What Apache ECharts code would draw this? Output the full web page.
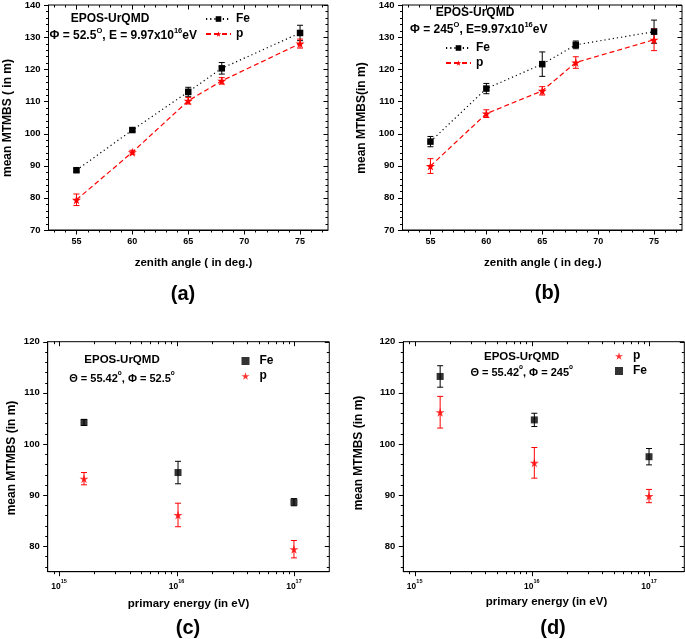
<!DOCTYPE html>
<html><head><meta charset="utf-8">
<script src="https://cdn.jsdelivr.net/npm/echarts@6/dist/echarts.min.js"></script>
<style>html,body{margin:0;padding:0;background:#fff}#c{width:685px;height:639px}</style>
</head><body><div id="c"></div>
<script>
// ---------- data ----------
const zenith = [55, 60, 65, 68, 75];
// panel (a)
const feA = [88.6, 101.1, 113.0, 120.3, 131.3];
const feAerr = [0.5, 0.4, 1.4, 1.8, 2.4];
const pA = [79.4, 94.2, 110.2, 116.4, 128.0];
const pAerr = [1.8, 0.6, 1.0, 1.0, 1.4];
// panel (b)
const feB = [97.5, 114.0, 121.6, 127.6, 131.7];
const feBerr = [1.6, 1.6, 3.8, 1.2, 3.6];
const pB = [89.9, 106.2, 113.3, 122.1, 129.2];
const pBerr = [2.3, 1.2, 1.3, 1.8, 3.4];
// panel (c)
const energyC = [1.63e15, 1.03e16, 1.0e17];
const feC = [104.2, 94.4, 88.6];
const feCerr = [0.6, 2.2, 0.7];
const pC = [93.2, 86.1, 79.4];
const pCerr = [1.2, 2.3, 1.7];
// panel (d)
const energyD = [1.65e15, 1.05e16, 1.0e17];
const feD = [113.2, 104.7, 97.5];
const feDerr = [2.1, 1.3, 1.6];
const pD = [106.2, 96.3, 89.8];
const pDerr = [3.1, 3.0, 1.3];
// tick values
const zenithTicks = [55, 60, 65, 70, 75];
const zenithMinor = [53, 54, 56, 57, 58, 59, 61, 62, 63, 64, 66, 67, 68, 69, 71, 72, 73, 74, 76, 77];
const mtTicksAB = [70, 80, 90, 100, 110, 120, 130, 140];
const mtMinorAB = [72,74,76,78,82,84,86,88,92,94,96,98,102,104,106,108,112,114,116,118,122,124,126,128,132,134,136,138];
const energyTicks = [1e15, 1e16, 1e17];
const energyMinor = [9e14, 2e15, 3e15, 4e15, 5e15, 6e15, 7e15, 8e15, 9e15, 2e16, 3e16, 4e16, 5e16, 6e16, 7e16, 8e16, 9e16];
const mtTicksCD = [80, 90, 100, 110, 120];
const mtMinorCD = [76,78,82,84,86,88,92,94,96,98,102,104,106,108,112,114,116,118];

// ---------- styling ----------
const FONT = "'Liberation Sans', Arial, sans-serif";
const STAR = 'path://M50,0 L61,35 L98,35 L68,57 L79,91 L50,70 L21,91 L32,57 L2,35 L39,35 Z';
const RED = '#ff0000';
const MAJ = 4.5, MIN = 2.5;

const grids = [
  {left: 48.5, top: 4.7, width: 279.5, height: 225.3},
  {left: 402.5, top: 4.7, width: 279.5, height: 225.3},
  {left: 47.7, top: 341.7, width: 281.6, height: 230},
  {left: 403.3, top: 341.7, width: 281, height: 230}
].map(g => Object.assign(g, {show: true, borderColor: '#000', borderWidth: 1, backgroundColor: 'transparent'}));

const xAxes = [], yAxes = [];
const lineCol = {color: '#000', width: 1};
function supFmt(v) {
  return '{n|10}{s|' + Math.round(Math.log10(v)) + '}';
}
const logLabel = {formatter: supFmt, rich: {
  n: {fontFamily: FONT, fontWeight: 'bold', fontSize: 8.5, color: '#000', verticalAlign: 'bottom', lineHeight: 12},
  s: {fontFamily: FONT, fontWeight: 'bold', fontSize: 5.5, color: '#000', verticalAlign: 'top', lineHeight: 12}}};
const panels = [
  {xType: 'value', xMin: 52.5, xMax: 77.5, xMajor: zenithTicks, xMinor: zenithMinor,
   yMin: 70, yMax: 140, yMajor: mtTicksAB, yMinor: mtMinorAB},
  {xType: 'value', xMin: 52.5, xMax: 77.5, xMajor: zenithTicks, xMinor: zenithMinor,
   yMin: 70, yMax: 140, yMajor: mtTicksAB, yMinor: mtMinorAB},
  {xType: 'log', xMin: 8e14, xMax: 2e17, xMajor: energyTicks, xMinor: energyMinor, xLabel: logLabel,
   yMin: 75, yMax: 120, yMajor: mtTicksCD, yMinor: mtMinorCD},
  {xType: 'log', xMin: 8e14, xMax: 2e17, xMajor: energyTicks, xMinor: energyMinor, xLabel: logLabel,
   yMin: 75, yMax: 120, yMajor: mtTicksCD, yMinor: mtMinorCD}
];
panels.forEach((c, gi) => {
  xAxes.push({gridIndex: gi, type: c.xType, min: c.xMin, max: c.xMax, position: 'bottom',
    splitLine: {show: false}, minorSplitLine: {show: false},
    axisLine: {show: true, lineStyle: lineCol, onZero: false},
    axisTick: {show: false},
    axisLabel: Object.assign({show: true, customValues: c.xMajor, margin: 7, color: '#000',
      fontFamily: FONT, fontWeight: 'bold', fontSize: 9}, c.xLabel || {})});
  yAxes.push({gridIndex: gi, type: 'value', min: c.yMin, max: c.yMax, position: 'left',
    splitLine: {show: false},
    axisLine: {show: true, lineStyle: lineCol, onZero: false},
    axisTick: {show: false},
    axisLabel: {show: true, customValues: c.yMajor, margin: 8, color: '#000',
      fontFamily: FONT, fontWeight: 'bold', fontSize: 9.5}});
});

// ticks on all four sides, placed through each grid's own axis scales
function tickRender(params, api) {
  const cs = params.coordSys;
  const isY = api.value(2), major = api.value(3);
  const len = major ? MAJ : MIN;
  const pt = api.coord([api.value(0), api.value(1)]);
  const st = {stroke: '#000', lineWidth: 1};
  if (!isY) {
    const px = Math.round(pt[0]) + 0.5;
    const b = cs.y + cs.height, t = cs.y;
    return {type: 'group', children: [
      {type: 'line', shape: {x1: px, y1: b, x2: px, y2: b + len}, style: st},
      {type: 'line', shape: {x1: px, y1: t, x2: px, y2: t + len}, style: st}]};
  }
  const py = Math.round(pt[1]) + 0.5;
  const l = cs.x, r = cs.x + cs.width;
  return {type: 'group', children: [
    {type: 'line', shape: {x1: l - len, y1: py, x2: l, y2: py}, style: st},
    {type: 'line', shape: {x1: r - len, y1: py, x2: r, y2: py}, style: st}]};
}
function tickData(c) {
  const midX = c.xType === 'log' ? Math.sqrt(c.xMin * c.xMax) : (c.xMin + c.xMax) / 2;
  const midY = (c.yMin + c.yMax) / 2;
  return [].concat(
    c.xMajor.map(v => [v, midY, 0, 1]), c.xMinor.map(v => [v, midY, 0, 0]),
    c.yMajor.map(v => [midX, v, 1, 1]), c.yMinor.map(v => [midX, v, 1, 0]));
}

function errRender(color) {
  return function (params, api) {
    const x = api.value(0), lo = api.value(1), hi = api.value(2);
    const a = api.coord([x, lo]), b = api.coord([x, hi]);
    const w = 3;
    const st = {stroke: color, lineWidth: 1};
    return {type: 'group', children: [
      {type: 'line', shape: {x1: a[0], y1: a[1], x2: b[0], y2: b[1]}, style: st},
      {type: 'line', shape: {x1: a[0] - w, y1: a[1], x2: a[0] + w, y2: a[1]}, style: st},
      {type: 'line', shape: {x1: b[0] - w, y1: b[1], x2: b[0] + w, y2: b[1]}, style: st}
    ]};
  };
}
function errData(xs, v, e) { return xs.map((x, i) => [x, v[i] - e[i], v[i] + e[i]]); }
function pts(xs, v) { return xs.map((x, i) => [x, v[i]]); }

const series = [];
panels.forEach((c, gi) => {
  series.push({type: 'custom', renderItem: tickRender, data: tickData(c), xAxisIndex: gi, yAxisIndex: gi,
    encode: {x: 0, y: 1}, z: 1, silent: true, clip: false});
});
function addPanel(gi, xs, fe, feE, p, pE, withLines, tag) {
  const ax = {xAxisIndex: gi, yAxisIndex: gi};
  series.push(Object.assign({type: 'custom', renderItem: errRender('#000'), data: errData(xs, fe, feE),
    encode: {x: 0, y: [1, 2]}, z: 2, silent: true}, ax));
  series.push(Object.assign({type: 'custom', renderItem: errRender(RED), data: errData(xs, p, pE),
    encode: {x: 0, y: [1, 2]}, z: 2, silent: true}, ax));
  if (withLines) {
    series.push(Object.assign({name: 'Fe#' + tag, type: 'line', data: pts(xs, fe), symbol: 'rect', symbolSize: 6.5,
      itemStyle: {color: '#000'}, lineStyle: {color: '#000', width: 1.2, type: [1.2, 3]}, z: 3}, ax));
    series.push(Object.assign({name: 'p#' + tag, type: 'line', data: pts(xs, p), symbol: STAR, symbolSize: 9,
      itemStyle: {color: RED}, lineStyle: {color: RED, width: 1.2, type: [5, 3]}, z: 3}, ax));
  } else {
    series.push(Object.assign({name: 'Fe#' + tag, type: 'scatter', data: pts(xs, fe), symbol: 'rect', symbolSize: 7,
      itemStyle: {color: '#000'}, z: 3}, ax));
    series.push(Object.assign({name: 'p#' + tag, type: 'scatter', data: pts(xs, p), symbol: STAR, symbolSize: 9,
      itemStyle: {color: RED}, z: 3}, ax));
  }
}
addPanel(0, zenith, feA, feAerr, pA, pAerr, true, 'a');
addPanel(1, zenith, feB, feBerr, pB, pBerr, true, 'b');
addPanel(2, energyC, feC, feCerr, pC, pCerr, false, 'c');
addPanel(3, energyD, feD, feDerr, pD, pDerr, false, 'd');

const legTxt = {fontFamily: FONT, fontWeight: 'bold', fontSize: 12, color: '#000', lineHeight: 12};
function legLine(left, top, names) {
  return {left: left, top: top, orient: 'vertical', itemWidth: 25, itemHeight: 7,
    itemGap: 3, padding: 0, selectedMode: false, data: names,
    formatter: n => n.split('#')[0], textStyle: legTxt};
}
function legDot(left, top, names) {
  return {left: left, top: top, orient: 'vertical', itemWidth: 8, itemHeight: 8,
    itemGap: 3, padding: 0, selectedMode: false, data: names,
    formatter: n => n.split('#')[0], textStyle: Object.assign({}, legTxt, {padding: [0, 0, 0, 5]})};
}
const legends = [
  legLine(205, 13, ['Fe#a', 'p#a']),
  legLine(445, 42, ['Fe#b', 'p#b']),
  legDot(241.5, 355, ['Fe#c', 'p#c']),
  legDot(615, 350, ['p#d', 'Fe#d'])
];

function txt(x, y, rich, str, align, rot) {
  return {type: 'text', x: x, y: y, rotation: rot || 0, silent: true,
    style: {text: str, rich: rich, textAlign: align || 'left', textVerticalAlign: 'middle',
      font: 'bold 12px ' + FONT, fill: '#000'}};
}
const R = {
  b: {fontFamily: FONT, fontWeight: 'bold', fontSize: 12, color: '#000', lineHeight: 15, verticalAlign: 'bottom'},
  s: {fontFamily: FONT, fontWeight: 'bold', fontSize: 7.5, color: '#000', lineHeight: 15, verticalAlign: 'top'}
};
const Rs = {
  b: {fontFamily: FONT, fontWeight: 'bold', fontSize: 11, color: '#000', lineHeight: 14, verticalAlign: 'bottom'},
  s: {fontFamily: FONT, fontWeight: 'bold', fontSize: 6.5, color: '#000', lineHeight: 14, verticalAlign: 'top'}
};
function plain(x, y, str, size, align, rot) {
  return {type: 'text', x: x, y: y, rotation: rot || 0, silent: true,
    style: {text: str, textAlign: align || 'center', textVerticalAlign: 'middle',
      font: 'bold ' + size + 'px ' + FONT, fill: '#000'}};
}
const graphics = [
  plain(110, 19, 'EPOS-UrQMD', 12),
  txt(49.5, 34, R, '{b|Φ = 52.5}{s|O}{b|, E = 9.97x10}{s|16}{b|eV}', 'left'),
  plain(475, 12.5, 'EPOS-UrQMD', 12),
  txt(410, 28.5, R, '{b|Φ = 245}{s|O}{b|, E=9.97x10}{s|16}{b|eV}', 'left'),
  plain(122, 360, 'EPOS-UrQMD', 11.5),
  txt(122, 377, Rs, '{b|Θ = 55.42}{s|o}{b|, Φ = 52.5}{s|o}', 'center'),
  plain(521.7, 356.5, 'EPOS-UrQMD', 11.5),
  txt(521.7, 371, Rs, '{b|Θ = 55.42}{s|o}{b|, Φ = 245}{s|o}', 'center'),
  plain(193.5, 263, 'zenith angle ( in deg.)', 11.5),
  plain(542.8, 263, 'zenith angle ( in deg.)', 11.5),
  plain(188.5, 604, 'primary energy (in eV)', 11.5),
  plain(546.5, 602, 'primary energy (in eV)', 11.5),
  plain(183, 294, '(a)', 20),
  plain(547.5, 293, '(b)', 20),
  plain(188, 628, '(c)', 20),
  plain(553, 628, '(d)', 20),
  plain(8, 118, 'mean MTMBS ( in m)', 12, 'center', Math.PI / 2),
  plain(362, 118, 'mean MTMBS(in m)', 12, 'center', Math.PI / 2),
  plain(12, 458, 'mean MTMBS (in m)', 12, 'center', Math.PI / 2),
  plain(359, 453, 'mean MTMBS (in m)', 12, 'center', Math.PI / 2)
];

const chart = echarts.init(document.getElementById('c'), null, {renderer: 'canvas'});
chart.setOption({
  animation: false,
  backgroundColor: '#fff',
  grid: grids,
  xAxis: xAxes,
  yAxis: yAxes,
  legend: legends,
  series: series,
  graphic: graphics
});
</script></body></html>
